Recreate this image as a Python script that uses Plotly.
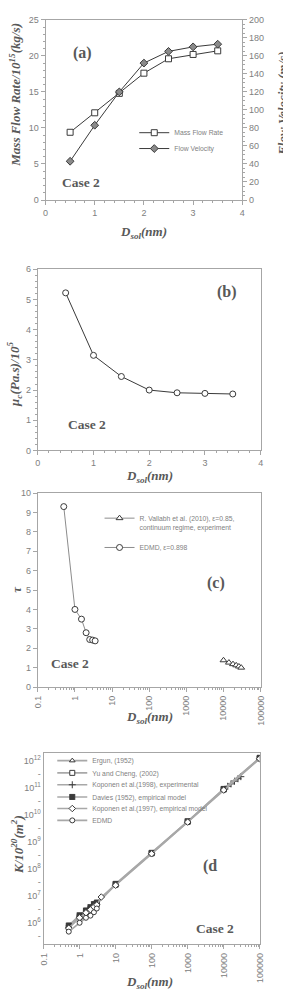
import plotly.graph_objects as go

W, H = 283, 991

def fx(x):
    return x / W

def fy(y):
    return 1 - y / H

# ---------------- data ----------------
# (a)
a_d = [0.5, 1.0, 1.5, 2.0, 2.5, 3.0, 3.5]
a_mass = [9.4, 12.1, 14.8, 17.6, 19.6, 20.2, 20.7]
a_vel = [43, 83, 120, 152, 165, 170, 173]
# (b)
b_d = [0.5, 1.0, 1.5, 2.0, 2.5, 3.0, 3.5]
b_mu = [5.22, 3.15, 2.45, 2.0, 1.91, 1.89, 1.87]
# (c)
c_val_d = [10000, 14000, 18000, 22000, 26000, 30000]
c_val_tau = [1.38, 1.26, 1.18, 1.12, 1.06, 1.0]
c_edmd_d = [0.5, 1.0, 1.5, 2.0, 2.5, 3.0, 3.5]
c_edmd_tau = [9.3, 4.0, 3.5, 2.8, 2.45, 2.42, 2.38]
# (d)
d_model_d = [0.5, 1.0, 1.5, 2.0, 2.5, 3.0, 10, 100, 1000, 10000, 100000]
d_ergun = [7.2e5, 1.75e6, 2.6e6, 3.5e6, 4.5e6, 5.2e6, 2.6e7, 3.7e8, 5.4e9, 8.5e10, 1.2e12]
d_yu = [6.6e5, 1.6e6, 2.4e6, 3.2e6, 4.1e6, 4.8e6, 2.5e7, 3.6e8, 5.3e9, 8.3e10, 1.18e12]
d_davies = [7.8e5, 1.85e6, 2.8e6, 3.7e6, 4.8e6, 5.5e6, 2.7e7, 3.8e8, 5.6e9, 8.8e10, 1.25e12]
d_kop98_d = [10000, 13000, 16000, 20000, 25000, 30000]
d_kop98 = [8.3e10, 1.1e11, 1.35e11, 1.7e11, 2.1e11, 2.5e11]
d_kop97_d = [0.5, 1.0, 1.5, 2.0, 2.5, 3.0, 4.0, 10, 100, 1000, 10000, 100000]
d_kop97 = [6.2e5, 1.5e6, 2.3e6, 3.0e6, 3.8e6, 4.5e6, 8.8e6, 2.4e7, 3.5e8, 5.2e9, 8.0e10, 1.15e12]
d_edmd_d = [0.5, 1.0, 1.5, 2.0, 2.5, 3.0]
d_edmd = [4.6e5, 9.8e5, 1.5e6, 1.8e6, 2.4e6, 3.3e6]

log_ticks = [0.1, 1, 10, 100, 1000, 10000, 100000]
log_ticktext = ["0.1", "1", "10", "100", "1000", "10000", "100000"]
k_tickvals = [10 ** (e / 2) for e in range(11, 25)]
k_ticktext = [("10<sup>%d</sup>" % (e // 2)) if e % 2 == 0 else "-" for e in range(11, 25)]

# ---------------- styles ----------------
DARK = "#3a3a3a"
GRAYLINE = "#8c8c8c"
AXC = "#a6a6a6"
TICKF = dict(family="Liberation Sans", size=9, color="#808080")
LEGF = dict(family="Liberation Sans", size=6.8, color="#7f7f7f")
SERIF = "Liberation Serif"
TXT = "#595959"

fig = go.Figure()

# (a)
fig.add_trace(go.Scatter(x=a_d, y=a_mass, mode="lines+markers", name="Mass Flow Rate",
                         line=dict(color=DARK, width=1),
                         marker=dict(symbol="square", size=6, color="white", line=dict(color=DARK, width=1)),
                         xaxis="x", yaxis="y", legend="legend"))
fig.add_trace(go.Scatter(x=a_d, y=a_vel, mode="lines+markers", name="Flow Velocity",
                         line=dict(color=DARK, width=1),
                         marker=dict(symbol="diamond", size=6, color="#8a8a8a", line=dict(color=DARK, width=1)),
                         xaxis="x", yaxis="y2", legend="legend2"))
# (b)
fig.add_trace(go.Scatter(x=b_d, y=b_mu, mode="lines+markers", showlegend=False,
                         line=dict(color=DARK, width=1),
                         marker=dict(symbol="circle", size=6, color="white", line=dict(color=DARK, width=1)),
                         xaxis="x2", yaxis="y3"))
# (c)
fig.add_trace(go.Scatter(x=c_val_d, y=c_val_tau, mode="lines+markers",
                         name="R. Vallabh et al. (2010), ε=0.85,<br>continuum regime, experiment",
                         line=dict(color=GRAYLINE, width=1),
                         marker=dict(symbol="triangle-up", size=6, color="white", line=dict(color=DARK, width=1)),
                         xaxis="x3", yaxis="y4", legend="legend3"))
fig.add_trace(go.Scatter(x=c_edmd_d, y=c_edmd_tau, mode="lines+markers", name="EDMD, ε=0.898",
                         line=dict(color=GRAYLINE, width=1),
                         marker=dict(symbol="circle", size=6, color="white", line=dict(color=DARK, width=1)),
                         xaxis="x3", yaxis="y4", legend="legend4"))
# (d)
dser = [
    (d_model_d, d_ergun, "Ergun, (1952)", "triangle-up", "white", "legend5"),
    (d_model_d, d_yu, "Yu and Cheng, (2002)", "square", "white", "legend6"),
    (d_kop98_d, d_kop98, "Koponen et al.(1998), experimental", "cross-thin-open", DARK, "legend7"),
    (d_model_d, d_davies, "Davies (1952), empirical model", "square-x", DARK, "legend8"),
    (d_kop97_d, d_kop97, "Koponen et al.(1997), empirical model", "diamond", "white", "legend9"),
    (d_edmd_d, d_edmd, "EDMD", "circle", "white", "legend10"),
]
for xs, ys, nm, sym, fc, lg in dser:
    fig.add_trace(go.Scatter(x=xs, y=ys, mode="lines+markers", name=nm,
                             line=dict(color="#a8a8a8", width=1.6),
                             marker=dict(symbol=sym, size=5, color=fc, line=dict(color=DARK, width=1)),
                             xaxis="x4", yaxis="y5", legend=lg))

base = dict(showline=True, linecolor=AXC, linewidth=1, mirror=True, ticks="outside", ticklen=4,
            tickcolor=AXC, tickfont=TICKF, showgrid=False, zeroline=False)
minor_lin = lambda d: dict(ticks="outside", ticklen=2, tickcolor=AXC, dtick=d, showgrid=False)

layout = dict(
    width=W, height=H, margin=dict(l=0, r=0, t=0, b=0),
    paper_bgcolor="white", plot_bgcolor="white",
    xaxis=dict(base, domain=[fx(42), fx(246)], anchor="y", range=[0, 4], dtick=1, minor=minor_lin(0.2)),
    yaxis=dict(base, domain=[fy(197), fy(15)], anchor="x", range=[0, 25], dtick=5, minor=minor_lin(1)),
    yaxis2=dict(base, overlaying="y", side="right", anchor="x", range=[0, 200], dtick=20,
                mirror=False, minor=minor_lin(5)),
    xaxis2=dict(base, domain=[fx(34), fx(265)], anchor="y3", range=[0, 4], dtick=1, minor=minor_lin(0.2)),
    yaxis3=dict(base, domain=[fy(450), fy(267)], anchor="x2", range=[0, 6], dtick=1, minor=minor_lin(0.2)),
    xaxis3=dict(base, type="log", domain=[fx(34), fx(265)], anchor="y4", range=[-1, 5],
                tickmode="array", tickvals=log_ticks, ticktext=log_ticktext, tickangle=-90,
                minor=dict(ticks="outside", ticklen=2, tickcolor=AXC, dtick="D1", showgrid=False)),
    yaxis4=dict(base, domain=[fy(689), fy(493)], anchor="x3", range=[0, 10], dtick=1),
    xaxis4=dict(base, type="log", domain=[fx(40), fx(264)], anchor="y5", range=[-1, 5],
                tickmode="array", tickvals=log_ticks, ticktext=log_ticktext, tickangle=-90,
                minor=dict(ticks="outside", ticklen=2, tickcolor=AXC, dtick="D1", showgrid=False)),
    yaxis5=dict(base, type="log", domain=[fy(949), fy(756)], anchor="x4", range=[5.19, 12.26],
                tickmode="array", tickvals=k_tickvals, ticktext=k_ticktext, ticks=""),
)

def leg(x0, yc, valign="middle", yanchor="middle"):
    return dict(x=fx(x0), y=fy(yc), xanchor="left", yanchor=yanchor, bgcolor="rgba(0,0,0,0)",
                font=LEGF, itemwidth=30, borderwidth=0, valign=valign, tracegroupgap=0)

layout["legend"] = leg(134, 129)
layout["legend2"] = leg(134, 145)
layout["legend3"] = leg(98, 523, valign="top")
layout["legend4"] = leg(98, 548)
for i, yc in enumerate([763.3, 775.7, 787.7, 800, 811.7, 823.7]):
    layout["legend%d" % (i + 5)] = leg(49, yc)

fig.update_layout(**layout)

def ann(x, y, text, size, angle=0, bold_italic=True, color=TXT):
    t = "<b><i>%s</i></b>" % text if bold_italic else "<b>%s</b>" % text
    fig.add_annotation(x=fx(x), y=fy(y), xref="paper", yref="paper", text=t, showarrow=False,
                       textangle=angle, xanchor="center", yanchor="middle",
                       font=dict(family=SERIF, size=size, color=color))

# axis titles
ann(144, 230, "D<sub>sol</sub>(nm)", 13)
ann(150, 476, "D<sub>sol</sub>(nm)", 13)
ann(150, 720, "D<sub>sol</sub>(nm)", 13)
ann(150, 987, "D<sub>sol</sub>(nm)", 13)
ann(10, 91, "Mass Flow Rate/10<sup>15</sup>(kg/s)", 13, angle=-90)
ann(288, 100, "Flow Velocity (m/s)", 13, angle=-90)
ann(10, 373, "μ<sub>c</sub>(Pa.s)/10<sup>5</sup>", 13, angle=-90)
ann(11, 590, "τ", 13, angle=-90)
ann(13, 848, "K/10<sup>20</sup>(m<sup>2</sup>)", 13, angle=-90)
# panel labels
ann(80, 48, "(a)", 16, bold_italic=False)
ann(230, 290, "(b)", 16, bold_italic=False)
ann(219, 584, "(c)", 16, bold_italic=False)
ann(213, 870, "(d", 16, bold_italic=False)
ann(79, 179, "Case 2", 13.5, bold_italic=False)
ann(85, 424, "Case 2", 13.5, bold_italic=False)
ann(67, 665, "Case 2", 13.5, bold_italic=False)
ann(218, 933, "Case 2", 13.5, bold_italic=False)

fig.write_html("out.html")
